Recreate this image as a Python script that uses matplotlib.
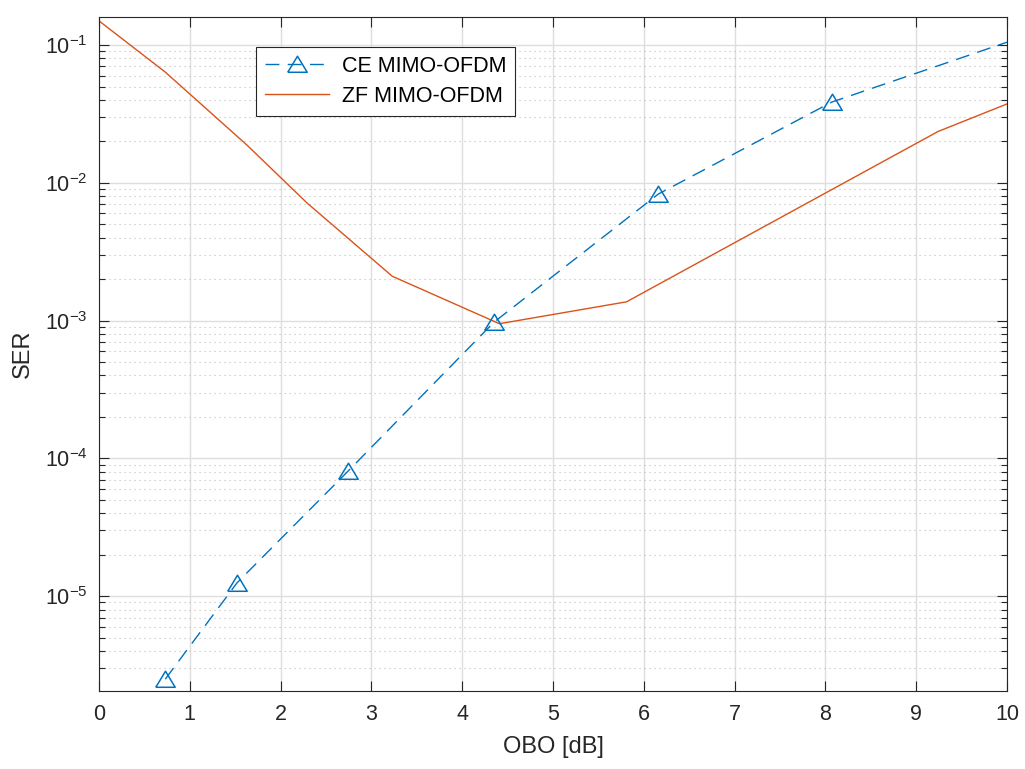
import matplotlib
matplotlib.use("Agg")
import matplotlib.pyplot as plt
from matplotlib.ticker import LogLocator, NullFormatter, FixedLocator, LogFormatterMathtext

plt.rcParams["font.family"] = ["Liberation Sans", "DejaVu Sans"]
plt.rcParams["mathtext.fontset"] = "custom"
plt.rcParams["mathtext.rm"] = "Liberation Sans"
plt.rcParams["mathtext.default"] = "regular"

# SER versus output back-off
obo_ce = [0.73, 1.52, 2.74, 4.35, 6.16, 8.07, 10.0]
ser_ce = [2.5e-6, 1.25e-5, 8.05e-5, 9.75e-4, 8.3e-3, 3.86e-2, 0.105]
ce_marked = [0, 1, 2, 3, 4, 5]

obo_zf = [0.0, 0.73, 1.63, 2.29, 3.23, 4.41, 5.81, 9.24, 10.0]
ser_zf = [0.150, 0.0637, 0.0188, 0.00716, 0.0021, 9.5e-4, 1.37e-3, 0.0236, 0.0374]

x_ticks = [0, 1, 2, 3, 4, 5, 6, 7, 8, 9, 10]
y_limits = (2.05e-6, 0.16)

blue = "#0072BD"
orange = "#D95319"
axis_col = "#262626"

W, H = 1025, 769
fig = plt.figure(figsize=(W / 100, H / 100), dpi=100)
ax = fig.add_axes([99 / W, (H - 691) / H, 908 / W, 674 / H])

# wide open triangle marker
tri = [(-1.0, -0.8), (1.0, -0.8), (0.0, 0.85), (-1.0, -0.8)]

ax.semilogy(obo_ce, ser_ce, color=blue, lw=1.0, dashes=(10, 6),
            marker=tri, ms=14, mfc="none", mec=blue, mew=1.1,
            markevery=ce_marked, label="CE MIMO-OFDM", zorder=3)
ax.semilogy(obo_zf, ser_zf, color=orange, lw=1.0, label="ZF MIMO-OFDM", zorder=2)

ax.set_xlim(0, 10)
ax.set_ylim(*y_limits)
ax.xaxis.set_major_locator(FixedLocator(x_ticks))
ax.yaxis.set_major_locator(LogLocator(base=10, numticks=20))
ax.yaxis.set_major_formatter(LogFormatterMathtext())
ax.yaxis.set_minor_locator(LogLocator(base=10, subs=range(2, 10), numticks=20))
ax.yaxis.set_minor_formatter(NullFormatter())

ax.grid(True, which="major", color="#dedede", lw=1.0, ls="-")
ax.grid(True, which="minor", axis="y", color="#bdbdbd", lw=0.8, ls=(0, (1, 3.5)))
ax.set_axisbelow(True)

ax.tick_params(axis="both", which="both", direction="in", top=True, right=True,
               colors=axis_col, labelsize=15.5, width=0.8)
ax.tick_params(axis="both", which="major", length=7)
ax.tick_params(axis="y", which="minor", length=4)
ax.tick_params(axis="x", pad=9)
ax.tick_params(axis="y", pad=8)
for s in ax.spines.values():
    s.set_color(axis_col)
    s.set_linewidth(0.8)

ax.set_xlabel("OBO [dB]", fontsize=17, color=axis_col, labelpad=8)
ax.set_ylabel("SER", fontsize=17, color=axis_col, labelpad=8)

leg = ax.legend(loc="upper left", bbox_to_anchor=(0.173, 0.955), borderaxespad=0,
                fontsize=15.5, fancybox=False, framealpha=1, edgecolor=axis_col,
                handlelength=3.0, labelspacing=0.42, borderpad=0.4, handletextpad=0.6)
leg.get_frame().set_linewidth(0.8)

fig.savefig("out.png", dpi=100)
